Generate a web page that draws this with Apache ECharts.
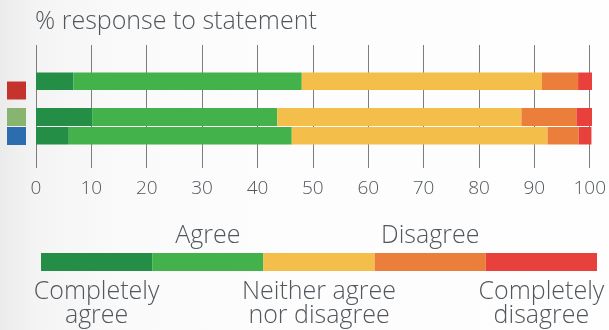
<!DOCTYPE html>
<html>
<head>
<meta charset="utf-8">
<script src="https://cdn.jsdelivr.net/npm/echarts@6/dist/echarts.min.js"></script>
<style>
html,body{margin:0;padding:0;width:609px;height:330px;overflow:hidden;
background:linear-gradient(to right,#ebebeb 0%,#f4f4f4 6%,#fafafa 20%,#fdfdfd 50%,#fefefe 100%);}
#c{width:609px;height:330px;}
</style>
</head>
<body>
<div id="c"></div>
<script>
// ---- data ----
const titleText = '% response to statement';
const responseCategories = ['Completely agree', 'Agree', 'Neither agree nor disagree', 'Disagree', 'Completely disagree'];
const rowRed = [6.7, 41.1, 43.2, 6.5, 2.5];
const rowGreen = [10.1, 33.3, 43.9, 9.9, 2.9];
const rowBlue = [5.9, 40.1, 46.0, 5.6, 2.3];
const xTicks = {min: 0, max: 100, interval: 10};
const legendTopLabels = ['', 'Agree', '', 'Disagree', ''];
const legendBottomLabels = ['Completely\nagree', '', 'Neither agree\nnor disagree', '', 'Completely\ndisagree'];
const legendUnits = [1, 1, 1, 1, 1];

// ---- styles ----
const segColors = ['#258e46', '#43b24b', '#f4be4b', '#ec7e3c', '#e8403a'];
const markerColors = {r: '#c4332c', g: '#88b46f', b: '#2c6db0'};
const textColor = '#51575c';
const FONT = "'Open Sans', 'Noto Sans', sans-serif";

const chart = echarts.init(document.getElementById('c'), null, {renderer: 'canvas'});

const barSeries = [];
responseCategories.forEach((name, k) => {
  barSeries.push({
    type: 'bar', name: name, stack: 'upper', xAxisIndex: 0, yAxisIndex: 0,
    barWidth: 18, barGap: '5.6%',
    itemStyle: {color: segColors[k]},
    data: [rowRed[k], rowGreen[k]]
  });
});
responseCategories.forEach((name, k) => {
  barSeries.push({
    type: 'bar', name: name, stack: 'lower', xAxisIndex: 0, yAxisIndex: 0,
    barWidth: 18, barGap: '5.6%',
    itemStyle: {color: segColors[k]},
    data: ['-', rowBlue[k]]
  });
});

const markerRich = {};
Object.keys(markerColors).forEach(key => {
  markerRich[key] = {backgroundColor: markerColors[key], width: 19, height: 18, lineHeight: 19};
});

const option = {
  animation: false,
  title: {
    text: titleText, left: 35, top: 9, padding: 0,
    textStyle: {fontFamily: FONT, fontSize: 25, fontWeight: 300, color: textColor}
  },
  grid: [
    {left: 36, right: 17, top: 72.5, height: 72},
    {left: 36, right: 17, top: 45, bottom: 162},
    {left: 41, right: 12, top: 253, height: 18}
  ],
  xAxis: [
    {type: 'value', gridIndex: 0, min: xTicks.min, max: xTicks.max, interval: xTicks.interval, show: false},
    {type: 'value', gridIndex: 1, min: xTicks.min, max: xTicks.max, interval: xTicks.interval,
      axisLine: {show: false}, axisTick: {show: false},
      splitLine: {show: true, lineStyle: {color: '#7d7d7d', width: 1}},
      axisLabel: {fontFamily: FONT, fontSize: 19, fontWeight: 300, color: textColor, margin: 11}},
    {type: 'category', gridIndex: 2, data: responseCategories, position: 'bottom',
      axisLine: {show: false}, axisTick: {show: false},
      axisLabel: {interval: 0, fontFamily: FONT, fontSize: 25, fontWeight: 300, lineHeight: 24, color: textColor, margin: 9,
        formatter: (v, i) => legendBottomLabels[i]}},
    {type: 'category', gridIndex: 2, data: responseCategories, position: 'top',
      axisLine: {show: false}, axisTick: {show: false},
      axisLabel: {interval: 0, fontFamily: FONT, fontSize: 25, fontWeight: 300, color: textColor, margin: 5,
        formatter: (v, i) => legendTopLabels[i]}}
  ],
  yAxis: [
    {type: 'category', gridIndex: 0, inverse: true, data: ['row1', 'row2'],
      axisLine: {show: false}, axisTick: {show: false}, splitLine: {show: false},
      axisLabel: {margin: 10, lineHeight: 19, rich: markerRich,
        formatter: (v, i) => i === 0 ? '{r|\u00a0}' : '{g|\u00a0}\n{b|\u00a0}'}},
    {type: 'value', gridIndex: 1, show: false, splitLine: {show: false}},
    {type: 'value', gridIndex: 2, min: 0, max: 1, show: false}
  ],
  series: barSeries.concat([
    {type: 'bar', xAxisIndex: 2, yAxisIndex: 2, barWidth: '100%', barCategoryGap: '0%', silent: true,
      data: legendUnits.map((u, i) => ({value: u, itemStyle: {color: segColors[i]}}))}
  ])
};
chart.setOption(option);
</script>
</body>
</html>
